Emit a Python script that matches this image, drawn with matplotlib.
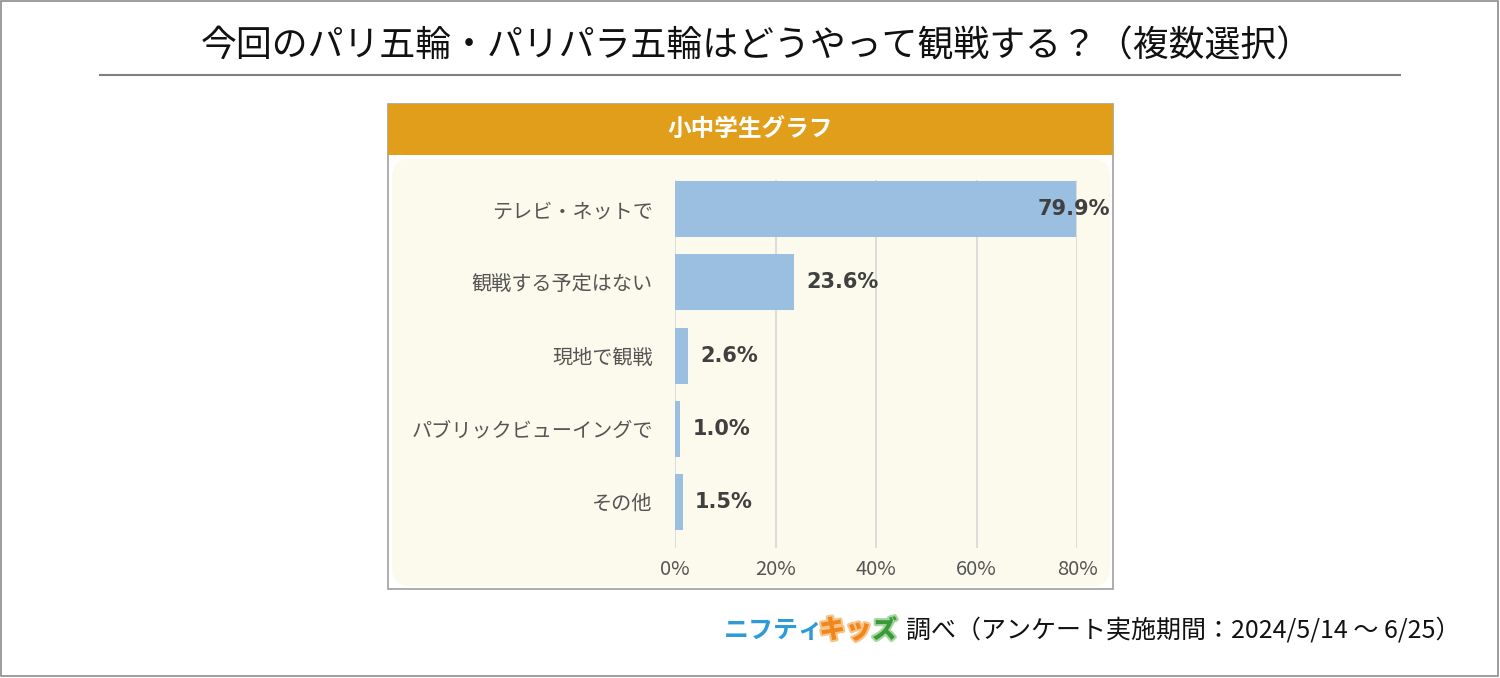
import numpy as np
import matplotlib
matplotlib.use("Agg")
from matplotlib import pyplot as plt
from matplotlib.patches import Rectangle, FancyBboxPatch
import matplotlib.patheffects as pe

plt.rcParams['font.family'] = ['Noto Sans CJK JP', 'DejaVu Sans']

title = "今回のパリ五輪・パリパラ五輪はどうやって観戦する？（複数選択）"
panel_title = "小中学生グラフ"
categories = ["テレビ・ネットで", "観戦する予定はない", "現地で観戦", "パブリックビューイングで", "その他"]
values = [79.9, 23.6, 2.6, 1.0, 1.5]
x_ticks = [0, 20, 40, 60, 80]
source_text = "調べ（アンケート実施期間：2024/5/14 ～ 6/25）"

W, H = 1500, 678
fig = plt.figure(figsize=(W / 100, H / 100), dpi=100)

# full-figure overlay in pixel coords (y down)
bg = fig.add_axes([0, 0, 1, 1])
bg.set_xlim(0, W)
bg.set_ylim(H, 0)
bg.axis("off")

bg.add_patch(Rectangle((1, 1), W - 3, H - 3, fill=False, ec="#8c8c8c", lw=1.2))
bg.text(757, 46, title, ha="center", va="center", fontsize=25.8, color="#111111")
bg.plot([100, 1400], [75, 75], color="#808080", lw=1.5)

# chart box
bg.add_patch(Rectangle((388, 104), 725, 485, fc="white", ec="#a0a0a0", lw=1.2))
bg.add_patch(FancyBboxPatch((392, 159), 718, 427,
                            boxstyle="round,pad=0,rounding_size=18",
                            fc="#fcfaec", ec="none"))
bg.add_patch(Rectangle((388, 104), 725, 51, fc="#e09e1a", ec="none"))
bg.text(750, 129, panel_title, ha="center", va="center", fontsize=17,
        color="white", fontweight="bold")

# footer logo + source
bg.text(724, 631, "ニフティ", ha="left", va="center", fontsize=18, color="#2f9ad8",
        fontweight="bold")
t1 = bg.text(819, 630, "キッ", ha="left", va="center", fontsize=19, color="#f0861c",
             fontweight="heavy")
t1.set_path_effects([pe.withStroke(linewidth=3, foreground="#f6c58a")])
t2 = bg.text(872, 630, "ズ", ha="left", va="center", fontsize=18, color="#3a9a3a",
             fontweight="heavy")
t2.set_path_effects([pe.withStroke(linewidth=3, foreground="#a8d5a0")])
bg.text(906, 630, source_text, ha="left", va="center", fontsize=18, color="#111111")

# bar chart axes
left, right, top, bottom = 675, 1077, 180, 548
ax = fig.add_axes([left / W, 1 - bottom / H, (right - left) / W, (bottom - top) / H])
ax.patch.set_alpha(0)
row = 73.25
ypos = np.arange(len(categories))
ax.barh(ypos, values, height=56 / row, color="#9bbfe1", zorder=3)
ax.set_xlim(0, 80)
ax.set_ylim(4 + 46 / row, -29 / row)
ax.set_xticks(x_ticks)
ax.set_xticklabels([f"{t}%" for t in x_ticks])
ax.set_yticks(ypos)
ax.set_yticklabels(categories)
ax.tick_params(axis="x", length=0, pad=8, labelsize=14.5, labelcolor="#555555")
ax.tick_params(axis="y", length=0, pad=16, labelsize=14.5, labelcolor="#555555")
ax.grid(axis="x", color="#d6d6d6", lw=1.2, zorder=0)
for s in ax.spines.values():
    s.set_visible(False)

for y, v in zip(ypos, values):
    if v > 75:
        ax.text(v + 6.6, y, f"{v:.1f}%", ha="right", va="center", fontsize=15,
                fontweight="bold", color="#404040", zorder=4, clip_on=False,
                family=["DejaVu Sans"])
    else:
        ax.text(v + 2.5, y, f"{v:.1f}%", ha="left", va="center", fontsize=15,
                fontweight="bold", color="#404040", zorder=4, clip_on=False,
                family=["DejaVu Sans"])

fig.savefig("out.png", dpi=100)
